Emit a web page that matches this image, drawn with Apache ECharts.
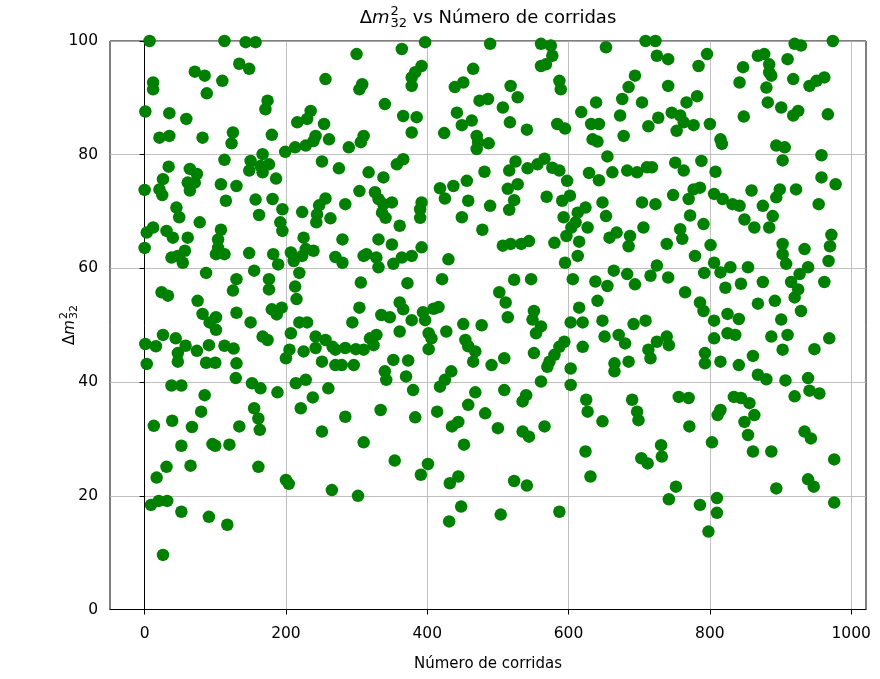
<!DOCTYPE html>
<html lang="es">
<head>
    <meta charset="UTF-8">
    <title>Δm²₃₂ vs Número de corridas</title>
    <script src="https://cdn.jsdelivr.net/npm/echarts@6/dist/echarts.min.js"></script>
</head>
<body style="margin:0;background:#fff;">
<div id="grafico" style="width: 880px;height: 679px;"></div>

<script>
    // [corrida, Δm²32], por tramos de corridas
    var puntosA = [[7,100],[113,100],[71,94.6],[85,93.9],[110,93.0],[12,92.7],[12,91.5],[88,90.8],[1,87.6],[35,87.3],[59,86.3],[21,83.0],[35,83.3],[82,83.0],[125,83.9],[123,82.0],[113,79.1],[34,77.9],[64,77.5],[74,76.6],[26,75.7],[21,73.9],[0,73.8],[25,72.9],[61,75.1],[71,75.1],[64,73.7],[108,74.8],[130,74.5],[115,71.9],[45,70.7],[49,69.0],[78,68.1],[12,67.2],[3,66.3],[31,66.6],[40,65.4],[61,65.4],[0,63.6],[108,66.8],[104,65.1],[104,63.6],[101,62.5],[113,62.5],[38,61.9],[47,62.2],[57,63.1],[54,61.0],[87,59.2],[24,55.8],[33,55.2],[75,54.3],[130,58.1],[125,56.1],[82,52.0],[101,51.4],[92,50.5],[130,52.2],[134,96],
        [101,49.2],[1,46.7],[16,46.3],[26,48.3],[44,47.7],[58,46.4],[74,45.5],[91,46.5],[113,46.4],[126,45.9],[47,45.1],[47,43.6],[3,43.2],[87,43.4],[100,43.4],[130,43.3],[129,40.7],[38,39.4],[52,39.4],[85,37.7],[80,34.8],[13,32.3],[39,33.2],[67,32.1],[134,32.2],[52,28.8],[96,29.1],[100,28.8],[120,29.0],[31,25.1],[17,23.2],[65,25.3],[9,18.4],[20,19.1],[32,19.1],[52,17.2],[91,16.3],[117,14.9],[26,9.6]];
    var puntosB = [[143,99.8],[157,99.8],[148,95.1],[300,97.7],[256,93.3],[304,91.5],[308,92.4],[174,89.5],[171,88.0],[235,87.7],[216,85.7],[230,86.3],[254,85.4],[180,83.5],[242,83.3],[261,82.7],[199,80.5],[213,81.3],[228,81.6],[239,82.4],[289,81.3],[306,82.2],[310,83.3],[167,80.1],[150,78.9],[148,77.2],[164,78.0],[176,78.3],[167,76.9],[186,75.8],[251,78.8],[275,77.6],[304,73.6],[157,72.1],[181,72.2],[195,70.4],[162,69.4],[223,69.9],[247,71.1],[256,72.3],[244,69.5],[263,68.8],[284,71.3],[192,68.1],[195,66.6],[243,68.1],[225,65.4],[280,65.1],[148,62.7],[182,62.5],[189,60.7],[207,62.8],[211,61.3],[223,62.2],[239,63.1],[228,63.4],[270,62.0],[280,61.0],[310,62.2],[155,59.6],[219,59.2],[176,58.1],[176,56.3],[213,56.8],[215,54.6],[306,57.5],[180,52.8],[194,53.1],[187,51.9],[150,50.5],[219,50.5],[230,50.5],[294,50.5],[304,53.1],
        [167,48.0],[174,47.4],[207,48.6],[242,48.0],[256,47.4],[266,46.2],[205,45.7],[200,44.2],[225,45.4],[242,46.0],[270,45.7],[284,46.0],[299,45.8],[310,45.7],[251,43.6],[270,43.0],[279,43.0],[296,43.0],[152,39.8],[164,38.9],[188,38.2],[214,39.8],[228,40.4],[260,38.9],[238,37.3],[221,35.4],[155,35.4],[161,33.6],[163,31.6],[284,33.9],[251,31.3],[310,29.4],[161,25.1],[200,22.8],[204,22.1],[265,21.0],[302,20.0]];
    var puntosC = [[397,99.8],[364,98.6],[392,95.6],[383,94.5],[378,93.6],[378,92.1],[340,88.9],[366,86.8],[385,86.6],[378,83.9],[366,79.2],[357,78.3],[317,76.9],[338,76.0],[326,73.4],[331,72.2],[338,71.3],[350,71.6],[336,69.8],[341,68.9],[392,71.6],[390,70.4],[390,68.9],[361,67.5],[331,65.1],[350,64.2],[314,62.5],[328,61.9],[331,60.2],[352,60.8],[364,61.9],[378,62.2],[392,63.7],[430,61.6],[372,57.4],[421,58.1],[361,54.0],[366,52.8],[335,51.8],[347,51.4],[378,50.9],[394,52.3],[409,52.9],[416,53.2],[397,50.9],[451,50.2],[477,50.0],[489,99.5],[465,95.1],[451,92.7],[439,91.9],[474,89.5],[486,89.8],[442,87.4],[449,85.2],[463,86.0],[424,83.8],[470,83.3],[472,82.2],[470,81.0],[481,77.0],[456,75.4],[437,74.5],[418,74.1],[425,72.3],[458,71.9],[489,71.0],[449,69.0],[478,66.8],
        [319,47.7],[328,48.3],[324,46.5],[361,48.9],[402,48.6],[406,47.7],[402,45.8],[427,48.9],[454,47.4],[458,46.3],[468,45.4],[465,43.6],[491,43.0],[352,43.9],[340,41.9],[342,40.4],[373,43.8],[370,41.0],[380,38.6],[434,41.9],[425,40.4],[418,39.2],[468,38.2],[458,36.0],[482,34.5],[334,35.1],[383,33.8],[414,34.8],[444,33.0],[435,32.2],[452,29.0],[354,26.2],[401,25.6],[391,23.7],[444,23.4],[432,22.2],[448,18.1],[431,15.5]];
    var puntosD = [[561,99.5],[575,99.2],[653,98.9],[561,95.6],[568,95.9],[577,97.4],[518,92.1],[528,90.1],[587,93.0],[589,91.5],[507,88.3],[517,85.7],[541,84.4],[584,85.4],[595,84.6],[618,87.5],[639,89.2],[632,85.4],[643,85.4],[634,82.7],[641,82.3],[487,82],[655,79.7],[662,76.9],[525,78.8],[542,77.6],[556,78.3],[566,79.3],[577,77.7],[587,77.2],[598,75.4],[516,77.2],[514,74.0],[528,74.8],[569,72.6],[629,76.8],[643,75.5],[523,72.0],[516,70.3],[602,72.8],[591,71.9],[593,69.0],[613,69.8],[624,70.7],[610,68.1],[627,67.2],[648,71.6],[653,69.2],[658,65.4],[604,67.2],[597,65.7],[580,64.5],[507,64.0],[518,64.3],[533,64.3],[544,64.8],[615,64.7],[613,62.2],[595,61.0],[523,58.0],[547,58.1],[606,58.1],[638,57.7],[655,56.9],[502,55.8],[511,54.0],[615,53.1],[641,54.3],[514,51.4],[551,52.5],[549,51.0],[603,50.5],[620,50.5],[648,50.8],
        [561,49.8],[554,48.6],[651,48.0],[620,46.2],[594,47.1],[587,46.2],[580,44.8],[573,43.6],[570,42.7],[551,45.1],[509,44.2],[603,42.4],[665,43.3],[665,41.9],[561,40.1],[603,39.5],[509,38.6],[540,37.7],[535,36.6],[625,36.9],[627,34.8],[648,33.1],[500,31.9],[535,31.3],[544,30.4],[566,32.2],[624,27.8],[631,23.4],[523,22.6],[541,21.8],[504,16.7],[587,17.2]];
    var puntosE = [[709,100],[723,100],[725,97.4],[741,96.8],[796,97.7],[784,95.6],[694,93.9],[685,91.9],[741,92.1],[676,89.8],[704,89.2],[673,86.9],[678,83.3],[782,90.3],[767,89.2],[746,87.4],[727,86.5],[713,85.0],[758,86.9],[763,85.7],[753,84.2],[777,85.2],[800,85.4],[815,82.7],[817,81.9],[683,77.2],[697,76.9],[711,77.8],[718,77.8],[751,78.6],[763,77.2],[788,78.9],[808,77.0],[777,73.9],[786,74.2],[770,72.2],[748,72.9],[704,71.6],[723,71.3],[806,73.1],[818,72.2],[832,71.3],[772,69.3],[791,67.8],[668,66.3],[687,65.7],[706,67.2],[685,63.9],[758,66.9],[761,65.2],[739,64.3],[801,64.1],[779,62.2],[664,59.6],[683,59.0],[694,57.2],[725,60.5],[716,58.7],[741,58.4],[765,55.8],[806,61.0],[792,59.2],[815,59.3],[829,60.2],[822,56.6],[786,54.0],[791,52.5],[692,50.2],[709,50.8],[806,50.8],[825,52.0],[841,51.1],
        [671,48.3],[680,46.8],[685,43.6],[713,45.7],[716,44.2],[725,47.1],[739,48.0],[742,46.5],[806,47.7],[825,48.6],[836,48.3],[793,45.1],[793,43.3],[815,43.6],[841,43.0],[690,36.9],[697,34.8],[699,33.3],[756,37.4],[770,37.2],[771,32.2],[815,35.1],[811,34.2],[834,37.4],[803,29.4],[731,28.9],[732,26.9],[703,26.6],[712,25.7],[752,21.6],[742,19.4],[786,18.4],[810,19.6],[810,17.0],[798,13.7]];
    var puntosF = [[920,99.5],[929,99.2],[974,100],[868,97.4],[877,97.7],[884,95.9],[884,94.5],[887,93.9],[910,96.8],[847,95.4],[842,92.7],[918,93.3],[941,92.1],[951,93.0],[962,93.6],[880,91.8],[882,89.2],[901,88.3],[918,86.9],[925,87.7],[967,87.1],[848,86.7],[894,81.6],[906,81.3],[903,79.0],[958,79.9],[958,76.0],[978,74.8],[859,73.7],[875,71.0],[894,72.5],[899,73.9],[922,73.9],[842,71.0],[954,71.3],[849,68.6],[863,67.2],[884,67.2],[889,69.2],[903,64.3],[903,62.5],[908,60.8],[934,63.4],[972,65.9],[970,63.9],[968,61.3],[854,60.2],[844,57.3],[875,57.6],[868,53.8],[915,57.6],[927,59.0],[939,60.2],[925,56.3],[920,54.9],[962,57.6],[892,54.3],[901,51.0],[929,52.5],
        [887,48.0],[910,48.3],[903,45.7],[969,47.7],[948,45.8],[861,44.6],[868,41.3],[880,40.5],[907,40.3],[939,40.7],[941,38.5],[955,38.0],[920,37.5],[844,37.2],[856,36.3],[863,34.2],[849,33.0],[854,30.7],[934,31.3],[943,30.1],[861,27.8],[887,27.8],[976,26.4],[939,22.9],[947,21.6],[894,21.3],[976,18.8]];

    var ticksX = [0, 200, 400, 600, 800, 1000];
    var fuente = 'DejaVu Sans';

    var puntos = puntosA.concat(puntosB, puntosC, puntosD, puntosE, puntosF);

    var myChart = echarts.init(document.getElementById('grafico'));

    // medir texto para centrar titulo y etiqueta
    var ctx = document.createElement('canvas').getContext('2d');
    function ancho(txt, font) {
        ctx.font = font;
        return ctx.measureText(txt).width;
    }

    // Δm^2_32 como piezas de texto (formula con super y subindice apilados)
    function formula(x0, yc, tam, resto) {
        var fN = tam + 'px ' + fuente;
        var fI = 'italic ' + tam + 'px ' + fuente;
        var tp = Math.round(tam * 0.7);
        var fP = tp + 'px ' + fuente;
        var wD = ancho('Δ', fN), wM = ancho('m', fI), wS = ancho('32', fP);
        var wR = resto ? ancho(resto, fN) : 0;
        var total = wD + wM + wS + 1 + wR;
        var x = x0 - total / 2;
        var piezas = [
            {type: 'text', x: x, y: yc, style: {text: 'Δ', font: fN, fill: '#000', textVerticalAlign: 'middle'}},
            {type: 'text', x: x + wD, y: yc, style: {text: 'm', font: fI, fill: '#000', textVerticalAlign: 'middle'}},
            {type: 'text', x: x + wD + wM + 1, y: yc - tam * 0.38, style: {text: '2', font: fP, fill: '#000', textVerticalAlign: 'middle'}},
            {type: 'text', x: x + wD + wM + 1, y: yc + tam * 0.3, style: {text: '32', font: fP, fill: '#000', textVerticalAlign: 'middle'}}
        ];
        if (resto) {
            piezas.push({type: 'text', x: x + wD + wM + wS + 1, y: yc, style: {text: resto, font: fN, fill: '#000', textVerticalAlign: 'middle'}});
        }
        return piezas;
    }

    option = {
        animation: false,
        backgroundColor: '#fff',
        grid: {
            left: 110, right: 14, top: 41, bottom: 69.5,
            show: true, borderColor: '#000', borderWidth: 1
        },
        xAxis: {
            type: 'value',
            min: -49,
            max: 1021,
            name: 'Número de corridas',
            nameLocation: 'middle',
            nameGap: 47,
            nameTextStyle: {fontFamily: fuente, fontSize: 15, color: '#000'},
            axisLine: {show: true, onZero: false, lineStyle: {color: '#000', width: 1}},
            axisTick: {show: true, length: 5, lineStyle: {color: '#000'}, customValues: ticksX},
            axisLabel: {
                fontFamily: fuente, fontSize: 15.5, color: '#000', margin: 16, customValues: ticksX,
                formatter: function (v) { return String(v); }
            },
            splitLine: {show: true, lineStyle: {color: '#b0b0b0', width: 0.8}}
        },
        yAxis: {
            type: 'value',
            min: 0,
            max: 100,
            interval: 20,
            axisLine: {show: true, lineStyle: {color: '#000', width: 1}},
            axisTick: {show: true, length: 5, lineStyle: {color: '#000'}},
            axisLabel: {fontFamily: fuente, fontSize: 15.5, color: '#000', margin: 12},
            splitLine: {show: true, lineStyle: {color: '#b0b0b0', width: 0.8}}
        },
        series: [
            {
                type: 'scatter',
                data: puntos,
                symbol: 'circle',
                symbolSize: 12.5,
                itemStyle: {color: '#008000', opacity: 1},
                emphasis: {disabled: true}
            }
        ],
        graphic: [
            {type: 'group', children: formula(488, 18, 18, ' vs Número de corridas')},
            {type: 'group', x: 70, y: 325, rotation: Math.PI / 2, children: formula(0, 0, 15, '')}
        ]
    };

    myChart.setOption(option);
</script>
</body>
</html>
